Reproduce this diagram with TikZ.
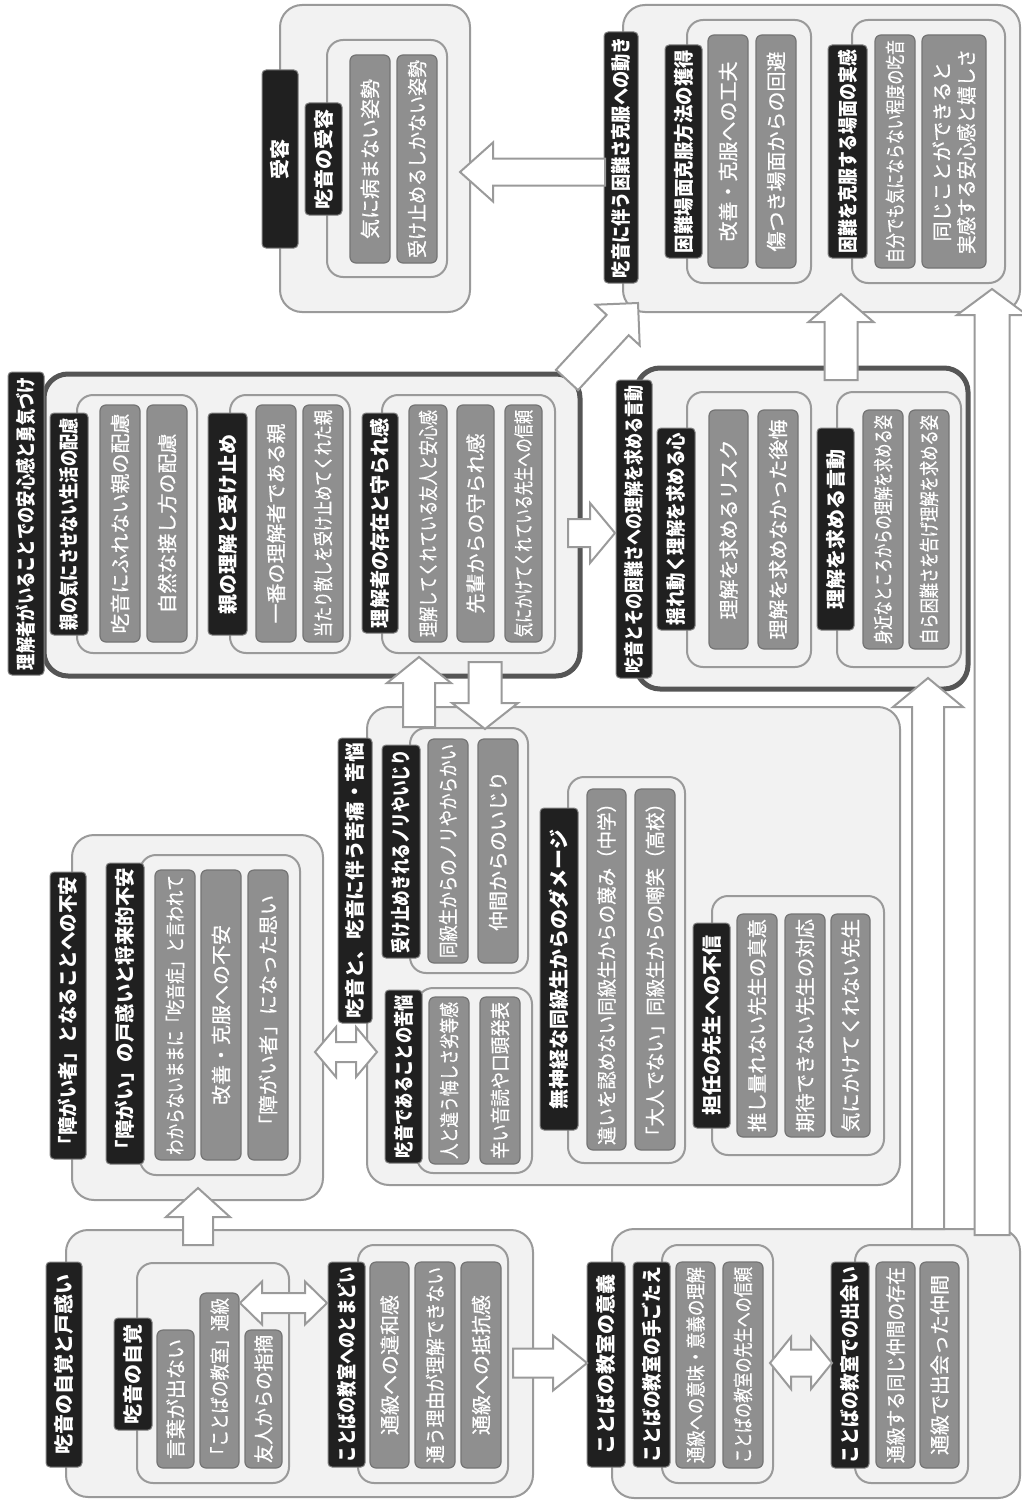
\documentclass[tikz,border=0pt]{standalone}
\usepackage{fontspec}
\usepackage{graphicx}
\setmainfont{Noto Sans CJK JP}
\newfontfamily\itmfont{Noto Sans CJK JP}[FakeBold=0.6]
\usetikzlibrary{calc}

\ExplSyntaxOn
\dim_new:N \l_jt_avail_dim
\dim_new:N \l_jt_pitch_dim
\dim_new:N \l_jt_fs_dim
\fp_new:N \l_jt_sc_fp
\dim_set:Nn \l_jt_fs_dim {20pt}
\NewDocumentCommand \jt { m m }
 {
  \dim_set:Nn \l_jt_avail_dim { \fp_eval:n {#1} pt }
  \dim_set:Nn \l_jt_pitch_dim { \dim_min:nn { \l_jt_fs_dim } { \l_jt_avail_dim / \tl_count:n {#2} } }
  \fp_set:Nn \l_jt_sc_fp { \dim_to_fp:n { \l_jt_pitch_dim } / \dim_to_fp:n { \l_jt_fs_dim } }
  \fontsize { \dim_use:N \l_jt_fs_dim } { \dim_use:N \l_jt_fs_dim } \selectfont
  \tl_map_inline:nn {#2}
   { \hbox_to_wd:nn { \l_jt_pitch_dim } { \hss \scalebox { \fp_use:N \l_jt_sc_fp } [1] {##1} \hss } }
 }
\ExplSyntaxOff

\definecolor{grpfill}{HTML}{F2F2F2}
\definecolor{grpline}{HTML}{9A9A9A}
\definecolor{thickline}{HTML}{555555}
\definecolor{labfill}{HTML}{202020}
\definecolor{itmfill}{HTML}{8F8F8F}
\definecolor{itmline}{HTML}{747474}

\tikzset{
  grp/.style={draw=grpline, fill=grpfill, line width=2pt, rounded corners=22pt, inner sep=0pt},
  grpk/.style={draw=thickline, fill=grpfill, line width=5pt, rounded corners=24pt, inner sep=0pt},
  subg/.style={draw=grpline, fill=grpfill, line width=2pt, rounded corners=16pt, inner sep=0pt},
  lab/.style={draw=gray, fill=labfill, line width=1pt, rounded corners=4pt, inner sep=0pt, text=white, font=\bfseries},
  itm/.style={draw=itmline, fill=itmfill, line width=1.2pt, rounded corners=6pt, inner sep=0pt, text=white, font=\itmfont},
  arr/.style={draw=grpline, fill=white, line width=2pt, line join=miter},
}

\newcommand\jfrm[6]{\node[#6, minimum width={(#4)-(#2)}, minimum height={(#5)-(#3)}] (#1) at ({((#2)+(#4))/2},{((#3)+(#5))/2}) {};}
\newcommand\jbox[7]{\node[#6, rotate=90, minimum width={(#5)-(#3)}, minimum height={(#4)-(#2)}] (#1) at ({((#2)+(#4))/2},{((#3)+(#5))/2}) {\jt{(#5)-(#3)-10}{#7}};}
% single block arrow: tail, tip, shaft half, head half, head length
\newcommand\blockarr[5]{%
  \coordinate (bnk) at ($(#2)!#5pt!(#1)$);
  \draw[arr] ($(#1)!#3pt!90:(#2)$) -- ($(bnk)!#3pt!90:(#2)$) -- ($(bnk)!#4pt!90:(#2)$) -- (#2)
    -- ($(bnk)!#4pt!-90:(#2)$) -- ($(bnk)!#3pt!-90:(#2)$) -- ($(#1)!#3pt!-90:(#2)$) -- cycle;}
% double block arrow: end A, end B, shaft half, head half, head length
\newcommand\dblarr[5]{%
  \coordinate (dka) at ($(#1)!#5pt!(#2)$);
  \coordinate (dkb) at ($(#2)!#5pt!(#1)$);
  \draw[arr] (#1) -- ($(dka)!#4pt!90:(#2)$) -- ($(dka)!#3pt!90:(#2)$) -- ($(dkb)!#3pt!-90:(#1)$)
    -- ($(dkb)!#4pt!-90:(#1)$) -- (#2) -- ($(dkb)!#4pt!90:(#1)$) -- ($(dkb)!#3pt!90:(#1)$)
    -- ($(dka)!#3pt!-90:(#2)$) -- ($(dka)!#4pt!-90:(#2)$) -- cycle;}

\begin{document}
\begin{tikzpicture}[x=1pt,y=-1pt]
\useasboundingbox (0,0) rectangle (1022,1501);
\fill[white] (0,0) rectangle (1022,1501);

% ---------- group frames ----------
\jfrm{gG}{280}{5}{470}{312}{grp}
\jfrm{gF}{623}{5}{1020}{312}{grp}
\jfrm{gD}{44}{374}{580}{676}{grpk}
\jfrm{gE}{636}{368}{968}{689}{grpk}
\jfrm{gC}{367}{707}{900}{1185}{grp}
\jfrm{gB}{72}{835}{323}{1200}{grp}
\jfrm{gA}{66}{1230}{533}{1497}{grp}
\jfrm{gH}{612}{1229}{1020}{1498}{grp}

% ---------- sub frames ----------
\jfrm{sG}{327}{40}{447}{277}{subg}
\jfrm{sF1}{687}{20}{811}{283}{subg}
\jfrm{sF2}{852}{20}{1005}{283}{subg}
\jfrm{sD1}{77}{395}{197}{653}{subg}
\jfrm{sD2}{230}{395}{350}{653}{subg}
\jfrm{sD3}{382}{395}{555}{653}{subg}
\jfrm{sE1}{687}{392}{811}{667}{subg}
\jfrm{sE2}{837}{392}{961}{667}{subg}
\jfrm{sC1}{410}{728}{528}{973}{subg}
\jfrm{sC2}{417}{988}{532}{1173}{subg}
\jfrm{sC3}{568}{777}{685}{1163}{subg}
\jfrm{sC4}{712}{896}{884}{1155}{subg}
\jfrm{sB}{140}{855}{300}{1175}{subg}
\jfrm{sA1}{137}{1263}{289}{1483}{subg}
\jfrm{sA2}{358}{1245}{508}{1483}{subg}
\jfrm{sH1}{662}{1245}{773}{1483}{subg}
\jfrm{sH2}{855}{1245}{968}{1483}{subg}

% ---------- G ----------
\jbox{lG}{262}{70}{298}{248}{lab}{受容}
\jbox{lG1}{305}{103}{342}{215}{lab}{吃音の受容}
\jbox{iG1}{350}{55}{390}{263}{itm}{気に病まない姿勢}
\jbox{iG2}{397}{55}{437}{263}{itm}{受け止めるしかない姿勢}

% ---------- F ----------
\jbox{lF}{604}{32}{638}{283}{lab}{吃音に伴う困難さ克服への動き}
\jbox{lF1}{665}{45}{702}{258}{lab}{困難場面克服方法の獲得}
\jbox{iF11}{708}{35}{748}{268}{itm}{改善・克服への工夫}
\jbox{iF12}{756}{35}{796}{268}{itm}{傷つき場面からの回避}
\jbox{lF2}{828}{45}{867}{258}{lab}{困難を克服する場面の実感}
\jbox{iF21}{875}{35}{915}{268}{itm}{自分でも気にならない程度の吃音}
\node[itm, rotate=90, minimum width=233, minimum height=64, align=center] (iF22) at (954,151.5)
  {\jt{205}{同じことができると}\\[5pt]\jt{205}{実感する安心感と嬉しさ}};

% ---------- D ----------
\jbox{lD}{8}{372}{44}{675}{lab}{理解者がいることでの安心感と勇気づけ}
\jbox{lD1}{50}{413}{88}{635}{lab}{親の気にさせない生活の配慮}
\jbox{iD11}{100}{405}{140}{642}{itm}{吃音にふれない親の配慮}
\jbox{iD12}{147}{405}{187}{642}{itm}{自然な接し方の配慮}
\jbox{lD2}{208}{413}{247}{635}{lab}{親の理解と受け止め}
\jbox{iD21}{256}{405}{296}{642}{itm}{一番の理解者である親}
\jbox{iD22}{303}{405}{343}{642}{itm}{当たり散しを受け止めてくれた親}
\jbox{lD3}{362}{413}{398}{633}{lab}{理解者の存在と守られ感}
\jbox{iD31}{409}{405}{447}{642}{itm}{理解してくれている友人と安心感}
\jbox{iD32}{457}{405}{494}{642}{itm}{先輩からの守られ感}
\jbox{iD33}{505}{405}{542}{642}{itm}{気にかけてくれている先生への信頼}

% ---------- E ----------
\jbox{lE}{616}{380}{652}{678}{lab}{吃音とその困難さへの理解を求める言動}
\jbox{lE1}{657}{428}{695}{630}{lab}{揺れ動く理解を求める心}
\jbox{iE11}{709}{410}{748}{649}{itm}{理解を求めるリスク}
\jbox{iE12}{758}{410}{798}{649}{itm}{理解を求めなかった後悔}
\jbox{lE2}{817}{428}{854}{630}{lab}{理解を求める言動}
\jbox{iE21}{863}{410}{903}{649}{itm}{身近なところからの理解を求める姿}
\jbox{iE22}{909}{410}{949}{649}{itm}{自ら困難さを告げ理解を求める姿}

% ---------- C ----------
\jbox{lC}{338}{738}{372}{1023}{lab}{吃音と、吃音に伴う苦痛・苦悩}
\jbox{lC1}{382}{745}{420}{958}{lab}{受け止めきれるノリやいじり}
\jbox{iC11}{428}{739}{468}{963}{itm}{同級生からのノリやからかい}
\jbox{iC12}{478}{739}{518}{963}{itm}{仲間からのいじり}
\jbox{lC2}{385}{990}{422}{1163}{lab}{吃音であることの苦悩}
\jbox{iC21}{429}{997}{469}{1164}{itm}{人と違う悔しさ劣等感}
\jbox{iC22}{480}{997}{520}{1164}{itm}{辛い音読や口頭発表}
\jbox{lC3}{540}{808}{578}{1130}{lab}{無神経な同級生からのダメージ}
\jbox{iC31}{587}{789}{626}{1150}{itm}{違いを認めない同級生からの蔑み（中学）}
\jbox{iC32}{635}{789}{675}{1150}{itm}{「大人でない」同級生からの嘲笑（高校）}
\jbox{lC4}{693}{923}{730}{1128}{lab}{担任の先生への不信}
\jbox{iC41}{737}{914}{777}{1137}{itm}{推し量れない先生の真意}
\jbox{iC42}{785}{914}{825}{1137}{itm}{期待できない先生の対応}
\jbox{iC43}{831}{914}{870}{1137}{itm}{気にかけてくれない先生}

% ---------- B ----------
\jbox{lB}{50}{872}{86}{1159}{lab}{「障がい者」となることへの不安}
\jbox{lB1}{106}{863}{144}{1164}{lab}{「障がい」の戸惑いと将来的不安}
\jbox{iB1}{155}{870}{195}{1160}{itm}{わからないままに「吃音症」と言われて}
\jbox{iB2}{201}{870}{241}{1160}{itm}{改善・克服への不安}
\jbox{iB3}{248}{870}{288}{1160}{itm}{「障がい者」になった思い}

% ---------- A ----------
\jbox{lA}{46}{1262}{82}{1467}{lab}{吃音の自覚と戸惑い}
\jbox{lA1}{114}{1318}{152}{1430}{lab}{吃音の自覚}
\jbox{iA11}{157}{1330}{194}{1468}{itm}{言葉が出ない}
\jbox{iA12}{200}{1293}{239}{1468}{itm}{「ことばの教室」通級}
\jbox{iA13}{245}{1330}{282}{1468}{itm}{友人からの指摘}
\jbox{lA2}{328}{1262}{365}{1467}{lab}{ことばの教室へのとまどい}
\jbox{iA21}{370}{1262}{409}{1468}{itm}{通級への違和感}
\jbox{iA22}{415}{1262}{455}{1468}{itm}{通う理由が理解できない}
\jbox{iA23}{461}{1262}{501}{1468}{itm}{通級への抵抗感}

% ---------- H ----------
\jbox{lH}{587}{1262}{625}{1467}{lab}{ことばの教室の意義}
\jbox{lH1}{633}{1262}{670}{1467}{lab}{ことばの教室の手ごたえ}
\jbox{iH11}{676}{1262}{715}{1468}{itm}{通級への意味・意義の理解}
\jbox{iH12}{723}{1262}{763}{1468}{itm}{ことばの教室の先生への信頼}
\jbox{lH2}{831}{1262}{869}{1468}{lab}{ことばの教室での出会い}
\jbox{iH21}{876}{1262}{915}{1468}{itm}{通級する同じ仲間の存在}
\jbox{iH22}{920}{1262}{959}{1468}{itm}{通級で出会った仲間}

% ---------- arrow end points ----------
\coordinate (aAB1) at (198,1245);  \coordinate (aAB2) at (198,1188);
\coordinate (dA1) at (240,1303);   \coordinate (dA2) at (327,1303);
\coordinate (aAH1) at (513,1363);  \coordinate (aAH2) at (587,1363);
\coordinate (dH1) at (770,1363);   \coordinate (dH2) at (832,1363);
\coordinate (dBC1) at (315,1052);  \coordinate (dBC2) at (377,1052);
\coordinate (aCD1) at (419,727);   \coordinate (aCD2) at (419,657);
\coordinate (aDC1) at (485,662);   \coordinate (aDC2) at (485,729);
\coordinate (aDE1) at (568,533);   \coordinate (aDE2) at (615,533);
\coordinate (aDF1) at (567,380);   \coordinate (aDF2) at (638,303);
\coordinate (aEF1) at (841,380);   \coordinate (aEF2) at (841,294);
\coordinate (aFG1) at (605,172);   \coordinate (aFG2) at (460,172);
\coordinate (aHE1) at (928,1229);  \coordinate (aHE2) at (928,678);
\coordinate (aHF1) at (992,1235);  \coordinate (aHF2) at (992,289);

% ---------- arrows ----------
\blockarr{aAB1}{aAB2}{15}{32}{29}
\dblarr{dA1}{dA2}{10}{21.5}{22}
\blockarr{aAH1}{aAH2}{14.5}{27.5}{34}
\dblarr{dH1}{dH2}{13.5}{26}{21}
\dblarr{dBC1}{dBC2}{10}{25}{21}
\blockarr{aCD1}{aCD2}{16}{32}{26}
\blockarr{aDC1}{aDC2}{16.5}{33}{26}
\blockarr{aDE1}{aDE2}{14}{30}{25}
\blockarr{aDF1}{aDF2}{15}{30}{30}
\blockarr{aEF1}{aEF2}{16.5}{32.5}{28}
\blockarr{aFG1}{aFG2}{13.5}{29.5}{33}
\blockarr{aHE1}{aHE2}{16}{35}{29}
\blockarr{aHF1}{aHF2}{17.5}{35}{26}
\end{tikzpicture}
\end{document}
